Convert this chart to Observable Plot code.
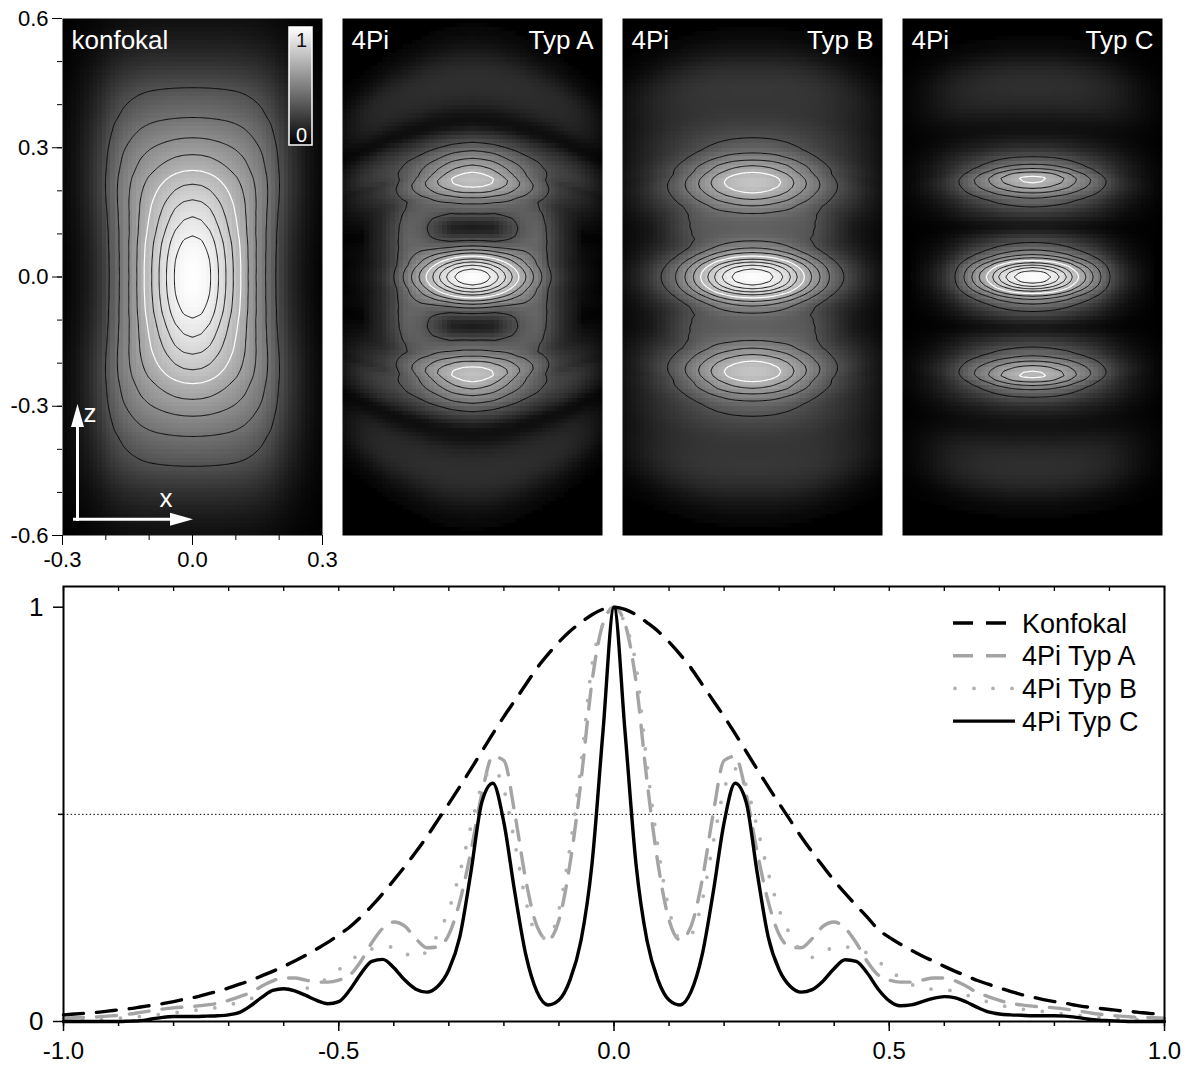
<!DOCTYPE html>
<html>
<head>
<meta charset="utf-8">
<script src="https://cdn.jsdelivr.net/npm/d3@7"></script>
<script src="https://cdn.jsdelivr.net/npm/@observablehq/plot@0.6"></script>
<style>
  html, body { margin: 0; padding: 0; background: #fff; }
  #figure { position: relative; width: 1195px; height: 1065px; font-family: "Liberation Sans", Arial, sans-serif; }
  #figure > svg { position: absolute; overflow: visible; }
</style>
</head>
<body>
<div id="figure"></div>
<script>
// ===================== axial profiles (lower chart) =====================
// positions along the optical axis, -1 … 1 in steps of 0.02
const zPositions = d3.range(-50, 51).map(i => i / 50);

const konfokal = [
  0.016,0.018,0.020,0.022,0.025,0.028,0.031,0.035,0.039,0.043,
  0.048,0.054,0.059,0.066,0.073,0.081,0.090,0.099,0.110,0.121,
  0.133,0.146,0.160,0.175,0.191,0.209,0.228,0.252,0.279,0.309,
  0.341,0.374,0.409,0.446,0.486,0.526,0.567,0.609,0.652,0.695,
  0.736,0.775,0.814,0.853,0.886,0.916,0.942,0.963,0.982,0.995,
  1.000,
  0.995,0.982,0.963,0.942,0.916,0.886,0.853,0.814,0.775,0.736,
  0.695,0.652,0.609,0.567,0.526,0.486,0.446,0.409,0.374,0.340,
  0.309,0.280,0.252,0.222,0.203,0.187,0.172,0.158,0.146,0.133,
  0.121,0.110,0.099,0.090,0.081,0.073,0.065,0.059,0.053,0.048,
  0.044,0.039,0.035,0.032,0.029,0.026,0.024,0.021,0.019,0.017
];
const typA = [
  0.008,0.009,0.010,0.011,0.013,0.015,0.018,0.022,0.026,0.030,
  0.033,0.035,0.037,0.040,0.044,0.051,0.060,0.070,0.085,0.098,
  0.105,0.105,0.100,0.095,0.095,0.100,0.112,0.145,0.190,0.225,
  0.240,0.230,0.200,0.178,0.180,0.210,0.290,0.410,0.550,0.640,
  0.630,0.500,0.340,0.230,0.197,0.245,0.380,0.580,0.820,0.960,
  1.000,
  0.960,0.820,0.580,0.380,0.245,0.197,0.230,0.340,0.500,0.630,
  0.640,0.550,0.410,0.290,0.210,0.180,0.178,0.200,0.230,0.240,
  0.225,0.190,0.145,0.112,0.100,0.095,0.095,0.100,0.105,0.105,
  0.098,0.085,0.070,0.060,0.051,0.044,0.040,0.037,0.035,0.033,
  0.030,0.026,0.022,0.018,0.015,0.013,0.011,0.010,0.009,0.008
];
const typB = [
  0.002,0.003,0.004,0.005,0.006,0.008,0.010,0.012,0.015,0.018,
  0.021,0.024,0.027,0.030,0.034,0.040,0.047,0.055,0.064,0.072,
  0.077,0.078,0.080,0.090,0.105,0.125,0.145,0.165,0.175,0.180,
  0.180,0.165,0.155,0.170,0.210,0.270,0.360,0.470,0.570,0.610,
  0.560,0.430,0.290,0.210,0.200,0.270,0.420,0.620,0.860,0.960,
  1.000,
  0.960,0.860,0.620,0.420,0.270,0.200,0.210,0.290,0.430,0.560,
  0.610,0.570,0.470,0.360,0.270,0.210,0.170,0.155,0.165,0.180,
  0.180,0.175,0.165,0.145,0.125,0.105,0.090,0.080,0.078,0.077,
  0.072,0.064,0.055,0.047,0.040,0.034,0.030,0.027,0.024,0.021,
  0.018,0.015,0.012,0.010,0.008,0.006,0.005,0.004,0.003,0.002
];
const typC = [
  0.000,0.000,0.000,0.000,0.000,0.000,0.001,0.002,0.006,0.010,
  0.012,0.012,0.012,0.013,0.014,0.016,0.022,0.038,0.058,0.075,
  0.079,0.074,0.063,0.051,0.043,0.048,0.076,0.115,0.145,0.150,
  0.130,0.100,0.078,0.071,0.085,0.125,0.205,0.360,0.530,0.575,
  0.480,0.310,0.160,0.072,0.040,0.052,0.100,0.195,0.380,0.700,
  1.000,
  0.700,0.380,0.195,0.100,0.052,0.040,0.072,0.160,0.310,0.480,
  0.575,0.530,0.360,0.205,0.125,0.085,0.071,0.077,0.098,0.128,
  0.149,0.145,0.117,0.078,0.050,0.038,0.040,0.048,0.056,0.060,
  0.057,0.047,0.034,0.023,0.018,0.016,0.015,0.014,0.014,0.014,
  0.013,0.010,0.006,0.003,0.002,0.001,0.000,0.000,0.000,0.000
];

const profileTicksMajor = [-1, -0.5, 0, 0.5, 1];
const profileTicksMinor = [-1,-0.9,-0.8,-0.7,-0.6,-0.5,-0.4,-0.3,-0.2,-0.1,0,0.1,0.2,0.3,0.4,0.5,0.6,0.7,0.8,0.9,1];
const levelTicksMajor = [0, 1];
const levelTicksMinor = [0.5];
const legendLabels = ["Konfokal", "4Pi Typ A", "4Pi Typ B", "4Pi Typ C"];

// ===================== x–z intensity images (upper row) =====================
// axial intensity on the axis x = 0, |z| = 0 … 0.6 in steps of 0.01
const axialKonfokal = [
  1.000,0.999,0.996,0.991,0.984,0.975,0.963,0.949,0.933,0.913,
  0.890,0.867,0.843,0.821,0.800,0.776,0.752,0.726,0.698,0.670,
  0.643,0.616,0.587,0.558,0.524,0.492,0.464,0.437,0.411,0.384,
  0.358,0.332,0.307,0.285,0.263,0.243,0.223,0.200,0.183,0.168,
  0.154,0.140,0.127,0.114,0.099,0.086,0.074,0.063,0.053,0.044,
  0.036,0.030,0.025,0.020,0.016,0.013,0.010,0.008,0.006,0.005,0.004
];
const axialTypA = [
  1.00,0.97,0.89,0.77,0.63,0.48,0.34,0.22,0.13,0.07,0.03,
  0.012,0.012,0.03,0.07,0.115,0.16,0.20,0.27,0.35,0.44,
  0.51,0.565,0.575,0.52,0.46,0.40,0.34,0.27,0.22,0.16,
  0.11,0.075,0.045,0.022,0.008,0.004,0.004,0.006,0.011,0.017,
  0.023,0.027,0.030,0.032,0.033,0.033,0.032,0.030,0.027,0.022,
  0.017,0.012,0.008,0.005,0.003,0.002,0.001,0.001,0,0
];
const axialTypB = [
  1.00,0.97,0.89,0.77,0.62,0.48,0.36,0.28,0.22,0.17,0.15,
  0.14,0.14,0.15,0.175,0.21,0.27,0.33,0.40,0.47,0.53,
  0.58,0.60,0.58,0.52,0.45,0.39,0.31,0.24,0.19,0.15,
  0.125,0.105,0.09,0.077,0.066,0.058,0.052,0.048,0.046,0.045,
  0.045,0.046,0.046,0.046,0.044,0.041,0.037,0.032,0.026,0.020,
  0.014,0.009,0.006,0.004,0.002,0.001,0.001,0,0,0
];
const axialTypC = [
  1.00,0.955,0.83,0.66,0.47,0.32,0.22,0.15,0.10,0.06,0.03,
  0.012,0.008,0.015,0.035,0.06,0.09,0.13,0.18,0.25,0.35,
  0.44,0.51,0.53,0.45,0.32,0.21,0.15,0.095,0.06,0.035,
  0.02,0.012,0.007,0.005,0.005,0.006,0.009,0.013,0.018,0.023,
  0.027,0.030,0.032,0.033,0.033,0.031,0.028,0.023,0.018,0.012,
  0.007,0.004,0.002,0.001,0.001,0,0,0,0,0
];

// lateral profiles, |x| = 0 … 0.3 in steps of 0.02: in focus and in the outer lobes
const lateralKonfokalFocus = [1,0.977,0.91,0.80,0.683,0.565,0.45,0.33,0.24,0.145,0.07,0.03,0.012,0.004,0.001,0];
const lateralKonfokalWide  = [1,0.998,0.99,0.975,0.95,0.91,0.85,0.76,0.64,0.48,0.30,0.16,0.08,0.03,0.01,0.003];
const lateralTypAFocus = [1,0.975,0.905,0.80,0.68,0.545,0.42,0.305,0.20,0.105,0.05,0.022,0.009,0.003,0.001,0];
const lateralTypAWide  = [1,1,0.995,0.99,0.98,0.96,0.94,0.91,0.87,0.84,0.80,0.72,0.60,0.42,0.22,0.09];
const lateralTypBFocus = [1,0.98,0.93,0.85,0.75,0.62,0.50,0.38,0.28,0.19,0.125,0.08,0.045,0.022,0.01,0.004];
const lateralTypBWide  = [1,1,0.995,0.99,0.98,0.96,0.93,0.88,0.80,0.71,0.60,0.48,0.35,0.23,0.13,0.06];
const lateralTypCFocus = [1,0.975,0.91,0.81,0.69,0.54,0.42,0.30,0.19,0.095,0.045,0.018,0.007,0.002,0,0];
const lateralTypCWide  = [1,1,0.99,0.97,0.94,0.90,0.84,0.76,0.66,0.53,0.38,0.24,0.13,0.06,0.02,0.005];

// share of the wide lateral profile, |z| = 0 … 0.6 in steps of 0.05
const blendKonfokal = [0,0.02,0.08,0.2,0.38,0.55,0.72,0.85,0.92,0.95,1,1,1];
const blendTypA     = [0,0,0.03,0.05,0.06,0.08,0.4,0.85,1,1,1,1,1];
const blendTypB     = [0,0,0.04,0.05,0.05,0.08,0.35,0.8,1,1,1,1,1];
const blendTypC     = [0,0,0,0.04,0.08,0.12,0.5,0.9,1,1,1,1,1];

// bending of the side lobes towards the focal plane, |x| = 0 … 0.3 in steps of 0.05
const bendTypA = [0,0.01,0.04,0.09,0.15,0.24,0.33];
const bendTypB = [0,0,0.01,0.03,0.06,0.10,0.14];
const bendTypC = [0,0,0.01,0.025,0.045,0.07,0.10];

// off-axis light in the first minimum: [|z|, intensity] and [|x|, weight]
const ringZTypA = [[0.03,0],[0.06,0.08],[0.09,0.14],[0.11,0.15],[0.13,0.14],[0.16,0.08],[0.19,0]];
const ringXTypA = [[0,0],[0.05,0.05],[0.09,0.45],[0.12,0.85],[0.15,1],[0.18,0.5],[0.21,0.15],[0.25,0]];
const ringZTypB = [[0.07,0],[0.10,0.04],[0.12,0.05],[0.14,0.04],[0.17,0]];
const ringXTypB = [[0,0],[0.06,0.3],[0.11,0.9],[0.14,1],[0.17,0.6],[0.20,0.2],[0.23,0]];

const contourBlack = [0.1,0.2,0.3,0.4,0.6,0.7,0.8,0.9];
const contourWhite = [0.5];
const imageTicksZMajor = [-0.6,-0.3,0,0.3,0.6];
const imageTicksZMinor = [-0.6,-0.5,-0.4,-0.3,-0.2,-0.1,0,0.1,0.2,0.3,0.4,0.5,0.6];
const imageTicksXMajor = [-0.3,0,0.3];
const imageTicksXMinor = [-0.3,-0.2,-0.1,0,0.1,0.2,0.3];

const panels = [
  {title: null, label: "konfokal", axial: axialKonfokal, focus: lateralKonfokalFocus, wide: lateralKonfokalWide, blend: blendKonfokal, bend: null, ringZ: null, ringX: null},
  {title: "4Pi", label: "Typ A", axial: axialTypA, focus: lateralTypAFocus, wide: lateralTypAWide, blend: blendTypA, bend: bendTypA, ringZ: ringZTypA, ringX: ringXTypA},
  {title: "4Pi", label: "Typ B", axial: axialTypB, focus: lateralTypBFocus, wide: lateralTypBWide, blend: blendTypB, bend: bendTypB, ringZ: ringZTypB, ringX: ringXTypB},
  {title: "4Pi", label: "Typ C", axial: axialTypC, focus: lateralTypCFocus, wide: lateralTypCWide, blend: blendTypC, bend: bendTypC, ringZ: null, ringX: null}
];

// ---------- helpers ----------
function sampleTable(arr, step, t) {
  const f = t / step, i = Math.floor(f);
  if (i >= arr.length - 1) return arr[arr.length - 1];
  const w = f - i;
  return arr[i] * (1 - w) + arr[i + 1] * w;
}
function sampleKnots(pts, t) {
  if (t <= pts[0][0]) return pts[0][1];
  for (let i = 1; i < pts.length; i++) {
    if (t <= pts[i][0]) {
      const [t0, v0] = pts[i - 1], [t1, v1] = pts[i];
      return v0 + (v1 - v0) * (t - t0) / (t1 - t0);
    }
  }
  return pts[pts.length - 1][1];
}
function intensity(p, x, z) {
  const ax = Math.abs(x), az = Math.abs(z);
  const zz = p.bend ? az * (1 + sampleTable(p.bend, 0.05, ax)) : az;
  const t = sampleTable(p.blend, 0.05, zz);
  const lat = (1 - t) * sampleTable(p.focus, 0.02, ax) + t * sampleTable(p.wide, 0.02, ax);
  let v = sampleTable(p.axial, 0.01, zz) * lat;
  if (p.ringZ) v += sampleKnots(p.ringZ, zz) * sampleKnots(p.ringX, ax);
  return v;
}
function imageGrid(p, nx, nz) {
  const out = new Array(nx * nz);
  for (let j = 0; j < nz; j++) {
    const z = 0.6 - (j + 0.5) * 1.2 / nz;
    for (let i = 0; i < nx; i++) {
      const x = -0.3 + (i + 0.5) * 0.6 / nx;
      out[j * nx + i] = intensity(p, x, z);
    }
  }
  return out;
}

const FONT = "'Liberation Sans', Arial, Helvetica, sans-serif";
const fig = document.getElementById("figure");

// colour bar drawn inside the first image
function colorBar(index, scales, values, dims) {
  const w = 23, h = 118;
  const x0 = dims.width - dims.marginRight - 10 - w, y0 = dims.marginTop + 9;
  const g = d3.create("svg:g");
  const n = 59;
  for (let i = 0; i < n; i++) {
    const v = 1 - (i + 0.5) / n;
    g.append("rect").attr("x", x0).attr("y", y0 + i * h / n).attr("width", w).attr("height", h / n + 0.6)
      .attr("fill", d3.interpolateRgb("#000", "#fff")(v));
  }
  g.append("rect").attr("x", x0).attr("y", y0).attr("width", w).attr("height", h)
    .attr("fill", "none").attr("stroke", "white").attr("stroke-width", 1.5);
  g.append("text").attr("x", x0 + w / 2 + 1).attr("y", y0 + 20).attr("text-anchor", "middle")
    .attr("font-size", 20).attr("fill", "#111").text("1");
  g.append("text").attr("x", x0 + w / 2 + 1).attr("y", y0 + h - 3.5).attr("text-anchor", "middle")
    .attr("font-size", 20).attr("fill", "white").text("0");
  return g.node();
}
// coordinate arrows in the lower-left corner of the first image
function coordArrows(index, scales, values, dims) {
  const L = dims.marginLeft, B = dims.height - dims.marginBottom;
  const g = d3.create("svg:g");
  g.append("line").attr("x1", L + 15.5).attr("y1", B - 14).attr("x2", L + 15.5).attr("y2", B - 110)
    .attr("stroke", "white").attr("stroke-width", 3);
  g.append("path").attr("d", `M${L + 15.5},${B - 131} L${L + 9},${B - 108} L${L + 22},${B - 108} Z`).attr("fill", "white");
  g.append("line").attr("x1", L + 11).attr("y1", B - 15.7).attr("x2", L + 110).attr("y2", B - 15.7)
    .attr("stroke", "white").attr("stroke-width", 3);
  g.append("path").attr("d", `M${L + 131},${B - 15.7} L${L + 108},${B - 22.2} L${L + 108},${B - 9.2} Z`).attr("fill", "white");
  g.append("text").attr("x", L + 28).attr("y", B - 113).attr("font-size", 26).attr("fill", "white").text("z");
  g.append("text").attr("x", L + 104).attr("y", B - 28).attr("font-size", 26).attr("fill", "white").text("x");
  return g.node();
}

// ---------- upper row ----------
panels.forEach((p, k) => {
  const first = k === 0;
  const coarse = imageGrid(p, 60, 120);
  const fine = imageGrid(p, 240, 480);
  const extent = {x1: -0.3, x2: 0.3, y1: 0.6, y2: -0.6};
  const marks = [
    Plot.raster(coarse, {...extent, width: 60, height: 120, imageRendering: "pixelated"}),
    Plot.contour(fine, {...extent, width: 240, height: 480, thresholds: contourBlack, stroke: "black", fill: "none", strokeWidth: 0.9}),
    Plot.contour(fine, {...extent, width: 240, height: 480, thresholds: contourWhite, stroke: "white", fill: "none", strokeWidth: 1.2})
  ];
  if (first) {
    marks.push(
      Plot.text([p.label], {text: d => d, frameAnchor: "top-left", dx: 9, dy: 30, lineAnchor: "bottom", textAnchor: "start", fill: "white", fontSize: 26}),
      colorBar, coordArrows,
      Plot.axisY(imageTicksZMinor, {tickSize: 5, tickFormat: () => "", label: null}),
      Plot.axisY(imageTicksZMajor, {tickSize: 10, tickPadding: 4, tickFormat: d => d.toFixed(1), fontSize: 22, label: null}),
      Plot.axisX(imageTicksXMinor, {tickSize: 5, tickFormat: () => "", label: null}),
      Plot.axisX(imageTicksXMajor, {tickSize: 10, tickPadding: 6, tickFormat: d => d.toFixed(1), fontSize: 22, label: null})
    );
  } else {
    marks.push(
      Plot.text([p.title], {text: d => d, frameAnchor: "top-left", dx: 9, dy: 30, lineAnchor: "bottom", textAnchor: "start", fill: "white", fontSize: 26}),
      Plot.text([p.label], {text: d => d, frameAnchor: "top-right", dx: -9, dy: 30, lineAnchor: "bottom", textAnchor: "end", fill: "white", fontSize: 26})
    );
  }
  const svg = Plot.plot({
    width: first ? 341 : 260,
    height: first ? 567 : 517,
    marginLeft: first ? 62 : 0,
    marginRight: first ? 19 : 0,
    marginTop: first ? 18 : 0,
    marginBottom: first ? 32 : 0,
    x: {domain: [-0.3, 0.3], axis: null},
    y: {domain: [-0.6, 0.6], axis: null},
    color: {type: "sqrt", domain: [0, 1], range: ["#000", "#fff"], clamp: true},
    style: {fontFamily: FONT, fontSize: "22px", color: "black", background: "transparent"},
    marks
  });
  svg.style.left = (first ? 0 : 342 + (k - 1) * 280) + "px";
  svg.style.top = (first ? 0 : 18) + "px";
  fig.appendChild(svg);
});

// ---------- lower chart ----------
const rows = zPositions.map((z, i) => ({z, konfokal: konfokal[i], a: typA[i], b: typB[i], c: typC[i]}));
const plotH = 495 - 16 - 44;
const chart = Plot.plot({
  width: 1195, height: 495,
  marginLeft: 63, marginRight: 31, marginTop: 16, marginBottom: 44,
  x: {domain: [-1, 1]},
  y: {domain: [0, 1.05]},
  style: {fontFamily: FONT, fontSize: "24px", color: "black", background: "transparent"},
  marks: [
    Plot.ruleY([0.5], {stroke: "black", strokeWidth: 1, strokeDasharray: "1.5,2.3"}),
    Plot.line(rows, {x: "z", y: "a", curve: "monotone-x", stroke: "#a4a4a4", strokeWidth: 3.4, strokeDasharray: "20,13"}),
    Plot.line(rows, {x: "z", y: "b", curve: "monotone-x", stroke: "#b0b0b0", strokeWidth: 3.8, strokeDasharray: "0,19", strokeLinecap: "round"}),
    Plot.line(rows, {x: "z", y: "konfokal", curve: "monotone-x", stroke: "black", strokeWidth: 3.4, strokeDasharray: "20,13"}),
    Plot.line(rows, {x: "z", y: "c", curve: "monotone-x", stroke: "black", strokeWidth: 3.4}),
    Plot.tickX(profileTicksMinor, {x: d => d, insetBottom: plotH - 5, strokeWidth: 1.3}),
    Plot.frame({strokeWidth: 2}),
    Plot.axisX(profileTicksMinor, {tickSize: 5, strokeWidth: 1.5, tickFormat: () => "", label: null}),
    Plot.axisX(profileTicksMajor, {tickSize: 10, strokeWidth: 1.5, tickPadding: 10, tickFormat: d => d.toFixed(1), fontSize: 24, label: null}),
    Plot.axisY(levelTicksMinor, {tickSize: 5, strokeWidth: 1.5, tickFormat: () => "", label: null}),
    Plot.axisY(levelTicksMajor, {tickSize: 10, strokeWidth: 1.5, tickPadding: 10, tickFormat: d => String(d), fontSize: 26, label: null})
  ]
});
chart.style.left = "0px";
chart.style.top = "570px";
fig.appendChild(chart);

// ---------- legend ----------
const legendStyles = [
  {stroke: "black", dash: "20,13", width: 3.4, cap: "butt"},
  {stroke: "#a4a4a4", dash: "20,13", width: 3.4, cap: "butt"},
  {stroke: "#b0b0b0", dash: "0,19", width: 3.8, cap: "round"},
  {stroke: "black", dash: null, width: 3.4, cap: "butt"}
];
const legend = d3.create("svg").attr("width", 1195).attr("height", 1065)
  .style("left", "0px").style("top", "0px").style("pointer-events", "none")
  .attr("font-family", FONT);
legendLabels.forEach((name, i) => {
  const y = 623 + i * 32.7;
  const s = legendStyles[i];
  legend.append("line").attr("x1", s.cap === "round" ? 955 : 953).attr("x2", 1015).attr("y1", y).attr("y2", y)
    .attr("stroke", s.stroke).attr("stroke-width", s.width).attr("stroke-linecap", s.cap)
    .attr("stroke-dasharray", s.dash);
  legend.append("text").attr("x", 1022).attr("y", y + 9.5).attr("font-size", 27).attr("fill", "black").text(name);
});
fig.appendChild(legend.node());
</script>
</body>
</html>
